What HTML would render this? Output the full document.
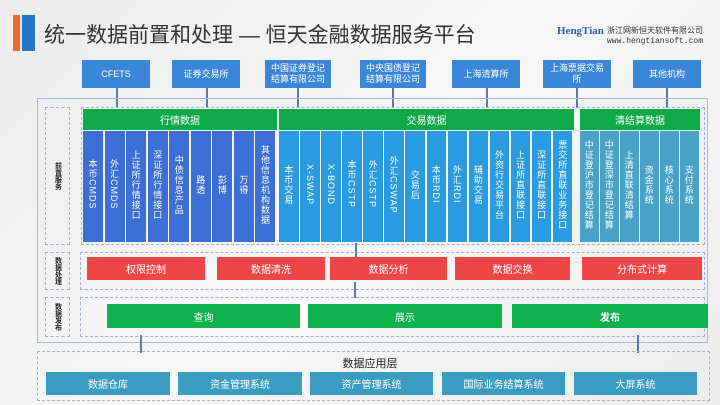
<!DOCTYPE html><html><head><meta charset="utf-8"><style>
*{margin:0;padding:0;box-sizing:border-box}
body{width:720px;height:405px;overflow:hidden;background:linear-gradient(135deg,#ececec,#f7f7f7 50%,#ededed);font-family:"Liberation Sans","Noto Sans CJK SC",sans-serif;position:relative}
.a{position:absolute}
.c{display:flex;align-items:center;justify-content:center;text-align:center;color:#fff}
.top{background:#3a86d8;font-size:9px;line-height:11px;top:60px;height:28px;width:68px}
.dash{border:1.5px dashed #9fb0d0}
.col{top:131px;height:111px;writing-mode:vertical-rl;font-size:9px;letter-spacing:1px;padding-bottom:4px}
.lbl{font-size:7px;color:#222;font-weight:bold;writing-mode:vertical-rl;text-orientation:upright}
.arr{width:2px;background:#5a7aa8}
.red{background:#ee4546;top:257px;height:23px;font-size:10px}
.grn{background:#0eb14b;top:304px;height:24px;font-size:10px}
.bb{background:#3b9cc2;top:372px;height:23px;font-size:10px}
</style></head><body>
<div class="a" style="left:13px;top:15px;width:7px;height:36px;background:#ef6a2f"></div>
<div class="a" style="left:22px;top:15px;width:13px;height:36px;background:#2577c6"></div>
<div class="a" style="left:44px;top:19px;font-size:21px;color:#333;white-space:nowrap">统一数据前置和处理 — 恒天金融数据服务平台</div>
<div class="a" style="left:557px;top:25px;font-size:11px;color:#2a5ea8;font-family:'Liberation Serif',serif;font-weight:bold">HengTian</div>
<div class="a" style="left:607px;top:25px;font-size:8px;color:#333">浙江网新恒天软件有限公司</div>
<div class="a" style="left:607px;top:37px;font-size:8px;color:#333;font-family:'Liberation Mono',monospace">www.hengtiansoft.com</div>

<div class="a c top" style="left:82px">CFETS</div>
<div class="a c top" style="left:172px">证券交易所</div>
<div class="a c top" style="left:265px;width:66px">中国证券登记<br>结算有限公司</div>
<div class="a c top" style="left:360px;width:66px">中央国债登记<br>结算有限公司</div>
<div class="a c top" style="left:452px">上海清算所</div>
<div class="a c top" style="left:543px">上海票据交易<br>所</div>
<div class="a c top" style="left:633px">其他机构</div>
<div class="a arr" style="left:116px;top:88px;height:20px"></div>
<div class="a arr" style="left:206px;top:88px;height:20px"></div>
<div class="a arr" style="left:297px;top:88px;height:20px"></div>
<div class="a arr" style="left:392px;top:88px;height:20px"></div>
<div class="a arr" style="left:486px;top:88px;height:20px"></div>
<div class="a arr" style="left:576px;top:88px;height:20px"></div>
<div class="a arr" style="left:666px;top:88px;height:20px"></div>

<div class="a" style="left:37px;top:98px;width:671px;height:245px;border:1.5px solid #a8b8d8"></div>
<div class="a dash c" style="left:45px;top:107px;width:25px;height:138px"><span class="lbl">前置服务</span></div>
<div class="a dash" style="left:81px;top:107px;width:624px;height:138px"></div>
<div class="a c" style="left:83px;top:109px;width:194px;height:21px;background:#0eaa48;font-size:10px">行情数据</div>
<div class="a c" style="left:279px;top:109px;width:295px;height:21px;background:#0eaa48;font-size:10px">交易数据</div>
<div class="a c" style="left:580px;top:109px;width:120px;height:21px;background:#0eaa48;font-size:10px">清结算数据</div>
<div id="cols"></div>

<div class="a arr" style="left:355px;top:243px;height:15px"></div>
<div class="a dash c" style="left:45px;top:252px;width:25px;height:38px"><span class="lbl">数据处理</span></div>
<div class="a dash" style="left:80px;top:252px;width:625px;height:38px"></div>
<div class="a c red" style="left:87px;width:118px">权限控制</div>
<div class="a c red" style="left:217px;width:108px">数据清洗</div>
<div class="a c red" style="left:330px;width:117px">数据分析</div>
<div class="a c red" style="left:455px;width:115px">数据交换</div>
<div class="a c red" style="left:582px;width:120px">分布式计算</div>
<div class="a arr" style="left:354px;top:282px;height:16px"></div>

<div class="a dash c" style="left:45px;top:297px;width:25px;height:40px"><span class="lbl">数据发布</span></div>
<div class="a dash" style="left:80px;top:297px;width:625px;height:40px"></div>
<div class="a c grn" style="left:107px;width:193px">查询</div>
<div class="a c grn" style="left:308px;width:194px">展示</div>
<div class="a c grn" style="left:512px;width:196px;font-weight:bold">发布</div>
<div class="a arr" style="left:140px;top:335px;height:18px"></div>
<div class="a arr" style="left:637px;top:335px;height:18px"></div>

<div class="a dash" style="left:37px;top:351px;width:673px;height:50px"></div>
<div class="a" style="left:0;width:740px;top:355px;text-align:center;font-size:11px;color:#222">数据应用层</div>
<div class="a c bb" style="left:46px;width:124px">数据仓库</div>
<div class="a c bb" style="left:178px;width:124px">资金管理系统</div>
<div class="a c bb" style="left:310px;width:123px">资产管理系统</div>
<div class="a c bb" style="left:442px;width:123px">国际业务结算系统</div>
<div class="a c bb" style="left:574px;width:123px">大屏系统</div>
<script>
var g=[[83,194,"#3b6fd6",["本币CMDS","外汇CMDS","上证所行情接口","深证所行情接口","中债信息产品","路透","彭博","万得","其他信息机构数据"]],
[279,295,"#2a9be0",["本币交易","X-SWAP","X-BOND","本币CSTP","外汇CSTP","外汇CSWAP","交易后","本币RDI","外汇RDI","辅助交易","外资行交易平台","上证所直联接口","深证所直联接口","票交所直联业务接口"]],
[580,120,"#4aa2c8",["中证登沪市登记结算","中证登深市登记结算","上清直联清结算","资金系统","核心系统","支付系统"]]];
var h="";g.forEach(function(s){var n=s[3].length,w=s[1]/n;s[3].forEach(function(t,i){h+='<div class="a c col" style="left:'+(s[0]+i*w)+'px;width:'+(w-1.5)+'px;background:'+s[2]+'">'+t+'</div>';});});
document.getElementById("cols").outerHTML=h;
</script>
</body></html>
